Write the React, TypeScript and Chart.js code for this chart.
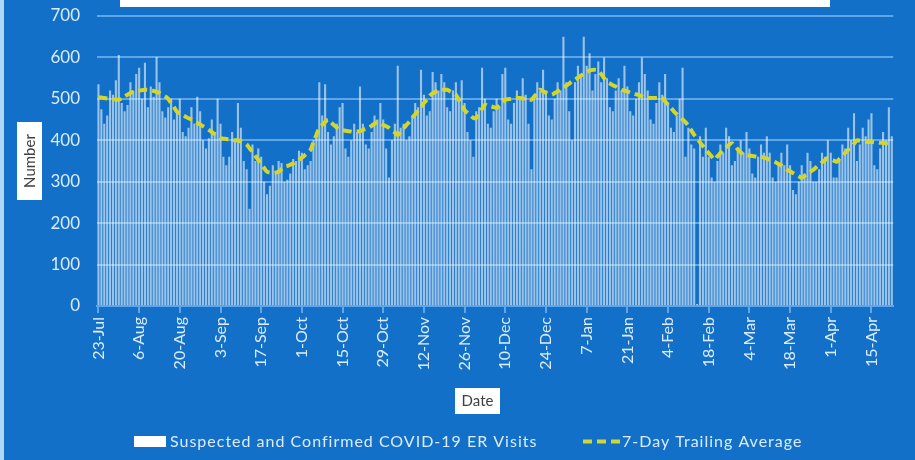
import React, { useEffect, useRef } from "react";
import { Chart, registerables } from "chart.js";

Chart.register(...registerables);

// Daily series start date (23-Jul-2020), one value per day
const START_YEAR = 2020;
const START_MONTH = 6; // July (0-based)
const START_DAY = 23;
const MONTHS = ["Jan", "Feb", "Mar", "Apr", "May", "Jun", "Jul", "Aug", "Sep", "Oct", "Nov", "Dec"];

const TICK_LABELS = [
  "23-Jul", "6-Aug", "20-Aug", "3-Sep", "17-Sep", "1-Oct", "15-Oct", "29-Oct", "12-Nov", "26-Nov",
  "10-Dec", "24-Dec", "7-Jan", "21-Jan", "4-Feb", "18-Feb", "4-Mar", "18-Mar", "1-Apr", "15-Apr",
];

const Y_TICKS = [0, 100, 200, 300, 400, 500, 600, 700];

// Suspected and Confirmed COVID-19 ER Visits (daily)
const ER_VISITS = [
  535, 475, 440, 460, 520, 510, 545,
  606, 490, 470, 485, 540, 520, 560,
  575, 500, 587, 480, 530, 505, 601,
  540, 470, 455, 480, 500, 450, 470,
  500, 420, 410, 430, 480, 440, 505,
  470, 400, 380, 405, 450, 420, 500,
  440, 360, 340, 360, 420, 400, 490,
  430, 350, 330, 235, 390, 350, 380,
  360, 300, 270, 290, 340, 320, 350,
  345, 300, 305, 320, 355, 350, 375,
  370, 330, 340, 350, 400, 420, 540,
  460, 535, 420, 390, 410, 440, 480,
  490, 380, 360, 400, 440, 420, 530,
  440, 390, 380, 420, 460, 450, 490,
  450, 380, 310, 400, 440, 580, 430,
  440, 400, 410, 460, 490, 480, 570,
  510, 460, 470, 565, 540, 520, 560,
  540, 480, 470, 520, 540, 500, 545,
  490, 420, 400, 360, 470, 480, 575,
  500, 440, 430, 470, 500, 480, 560,
  575, 450, 440, 490, 520, 500, 550,
  510, 440, 330, 500, 540, 520, 570,
  520, 460, 450, 500, 540, 520, 650,
  540, 470, 400, 540, 580, 560, 650,
  580, 610, 520, 560, 590, 540, 600,
  550, 480, 470, 520, 550, 520, 580,
  530, 470, 460, 500, 540, 600, 560,
  520, 450, 440, 490, 540, 510, 560,
  490, 430, 420, 460, 500, 575, 360,
  430, 390, 380, 5, 410, 360, 430,
  360, 310, 300, 350, 390, 370, 430,
  410, 340, 350, 380, 400, 370, 420,
  380, 320, 310, 360, 390, 370, 410,
  370, 310, 300, 340, 370, 340, 390,
  340, 280, 270, 300, 340, 320, 370,
  350, 300, 300, 330, 370, 360, 400,
  370, 310, 310, 350, 390, 380, 430,
  400, 465, 350, 390, 430, 410, 450,
  465, 340, 330, 380, 420, 400, 480,
  410,
];

// 7-Day Trailing Average
const TRAILING_AVG = [
  503, 503, 502, 501, 500, 499, 498,
  498, 502, 506, 510, 514, 517, 519,
  520, 521, 522, 522, 521, 519, 517,
  514, 510, 506, 500, 490, 480, 469,
  465, 461, 457, 453, 450, 446, 442,
  438, 434, 430, 425, 420, 415, 410,
  405, 404, 403, 402, 401, 400, 400,
  397, 394, 390, 381, 372, 362, 353,
  343, 333, 324, 322, 321, 322, 324,
  330, 336, 338, 341, 344, 348, 353,
  358, 364, 370, 377, 395, 413, 430,
  437, 444, 450, 443, 437, 431, 425,
  424, 423, 422, 421, 420, 421, 422,
  425, 428, 430, 435, 440, 444, 441,
  437, 434, 430, 424, 419, 413, 421,
  429, 437, 445, 454, 463, 472, 481,
  490, 498, 507, 513, 517, 519, 521,
  522, 522, 518, 514, 510, 498, 486,
  473, 466, 460, 454, 454, 465, 476,
  486, 484, 482, 480, 478, 484, 491,
  498, 499, 500, 501, 502, 502, 501,
  500, 499, 498, 506, 514, 522, 518,
  515, 512, 510, 514, 518, 523, 527,
  532, 537, 542, 547, 551, 556, 561,
  565, 568, 570, 570, 568, 560, 550,
  541, 537, 533, 530, 526, 522, 520,
  518, 515, 513, 511, 509, 506, 504,
  502, 502, 502, 502, 502, 502, 494,
  486, 478, 470, 463, 457, 450, 444,
  435, 424, 413, 404, 395, 386, 377,
  369, 361, 353, 361, 369, 377, 383,
  389, 393, 386, 378, 371, 365, 364,
  363, 362, 361, 360, 360, 358, 356,
  353, 350, 347, 343, 339, 334, 329,
  325, 321, 317, 313, 309, 314, 319,
  324, 329, 335, 341, 347, 352, 357,
  354, 351, 348, 355, 362, 370, 377,
  385, 392, 400, 399, 398, 397, 396,
  396, 395, 395, 394, 394, 393, 393,
  392,
];

const BAR_LABEL = "Suspected and Confirmed COVID-19 ER Visits";
const LINE_LABEL = "7-Day Trailing Average";

const BG = "rgb(18,112,200)";
const GRID = "rgb(95,165,232)";
const TEXT = "rgb(220,235,250)";
const BAR_COLOR = "rgba(255,255,255,0.58)";
const LINE_COLOR = "rgb(212,214,40)";
const FONT = "Lato";

function buildLabels(n: number): string[] {
  const out: string[] = [];
  for (let i = 0; i < n; i++) {
    const d = new Date(START_YEAR, START_MONTH, START_DAY + i);
    out.push(`${d.getDate()}-${MONTHS[d.getMonth()]}`);
  }
  return out;
}

const decorPlugin = {
  id: "decor",
  beforeDraw(chart: any) {
    const { ctx, width, height } = chart;
    ctx.save();
    ctx.fillStyle = BG;
    ctx.fillRect(0, 0, width, height);
    // light left edge
    ctx.fillStyle = "rgb(175,215,245)";
    ctx.fillRect(0, 0, 4, height);
    // top title box (cropped)
    ctx.fillStyle = "#ffffff";
    ctx.fillRect(120, 0, 710, 7);
    ctx.restore();
  },
  afterDraw(chart: any) {
    const { ctx, chartArea } = chart;
    ctx.save();
    // Y axis title box
    const yMid = (chartArea.top + chartArea.bottom) / 2;
    ctx.fillStyle = "#ffffff";
    ctx.fillRect(17, yMid - 39, 25, 78);
    ctx.translate(30, yMid);
    ctx.rotate(-Math.PI / 2);
    ctx.fillStyle = "#404040";
    ctx.font = `15px ${FONT}`;
    ctx.textAlign = "center";
    ctx.textBaseline = "middle";
    ctx.fillText("Number", 0, 0);
    ctx.restore();

    ctx.save();
    // X axis title box
    ctx.fillStyle = "#ffffff";
    ctx.fillRect(455, 388, 45, 26);
    ctx.fillStyle = "#404040";
    ctx.font = `15px ${FONT}`;
    ctx.textAlign = "center";
    ctx.textBaseline = "middle";
    ctx.fillText("Date", 477.5, 401.5);

    // Legend
    const ly = 441.5;
    ctx.fillStyle = "#ffffff";
    ctx.fillRect(134, ly - 5.5, 32, 11);
    ctx.fillStyle = TEXT;
    ctx.textAlign = "left";
    ctx.font = `16px ${FONT}`;
    (ctx as any).letterSpacing = "1px";
    ctx.fillText(BAR_LABEL, 170, ly);

    ctx.strokeStyle = LINE_COLOR;
    ctx.lineWidth = 4;
    ctx.setLineDash([9, 5]);
    ctx.beginPath();
    ctx.moveTo(583, ly);
    ctx.lineTo(620, ly);
    ctx.stroke();
    ctx.setLineDash([]);
    ctx.fillStyle = TEXT;
    ctx.fillText(LINE_LABEL, 622, ly);
    (ctx as any).letterSpacing = "0px";
    ctx.restore();
  },
};

export default function App() {
  const ref = useRef<HTMLCanvasElement | null>(null);

  useEffect(() => {
    document.body.style.margin = "0";
    const canvas = ref.current;
    if (!canvas) return;
    const labels = buildLabels(TRAILING_AVG.length);
    const chart = new Chart(canvas, {
      type: "bar",
      data: {
        labels,
        datasets: [
          {
            type: "line",
            label: LINE_LABEL,
            data: TRAILING_AVG,
            borderColor: LINE_COLOR,
            borderWidth: 4,
            borderDash: [9, 5],
            pointRadius: 0,
            tension: 0.25,
            fill: false,
            order: 0,
          } as any,
          {
            type: "bar",
            label: BAR_LABEL,
            data: ER_VISITS,
            backgroundColor: BAR_COLOR,
            borderWidth: 0,
            barPercentage: 0.72,
            categoryPercentage: 1,
            order: 1,
          } as any,
        ],
      },
      options: {
        responsive: false,
        animation: false,
        layout: { padding: { top: 16, right: 5, left: 0, bottom: 0 } },
        plugins: {
          legend: { display: false },
          title: { display: false },
          tooltip: { enabled: false },
        },
        scales: {
          x: {
            offset: true,
            afterFit: (scale: any) => {
              scale.height = 154;
            },
            grid: {
              offset: false,
              drawOnChartArea: false,
              drawTicks: true,
              tickLength: 7,
              lineWidth: 2,
              color: (ctx: any) =>
                TICK_LABELS.includes(labels[ctx.index]) ? GRID : "rgba(0,0,0,0)",
            },
            border: { display: true, color: GRID, width: 2 },
            ticks: {
              autoSkip: false,
              maxRotation: 90,
              minRotation: 90,
              padding: 4,
              color: TEXT,
              font: { family: FONT, size: 16 },
              callback: function (this: any, value: any) {
                const lab = this.getLabelForValue(value);
                return TICK_LABELS.includes(lab) ? lab : "";
              },
            },
          },
          y: {
            min: 0,
            max: 700,
            afterFit: (scale: any) => {
              scale.width = 97;
            },
            afterBuildTicks: (scale: any) => {
              scale.ticks = Y_TICKS.map((v) => ({ value: v }));
            },
            grid: {
              color: GRID,
              lineWidth: 2,
              drawTicks: true,
              tickLength: 17,
              tickColor: "rgba(0,0,0,0)",
            },
            border: { display: false },
            ticks: {
              padding: 0,
              color: TEXT,
              font: { family: FONT, size: 17 },
            },
          },
        },
      },
      plugins: [decorPlugin],
    });
    return () => chart.destroy();
  }, []);

  return (
    <div style={{ width: 915, height: 460 }}>
      <canvas ref={ref} width={915} height={460} />
    </div>
  );
}
